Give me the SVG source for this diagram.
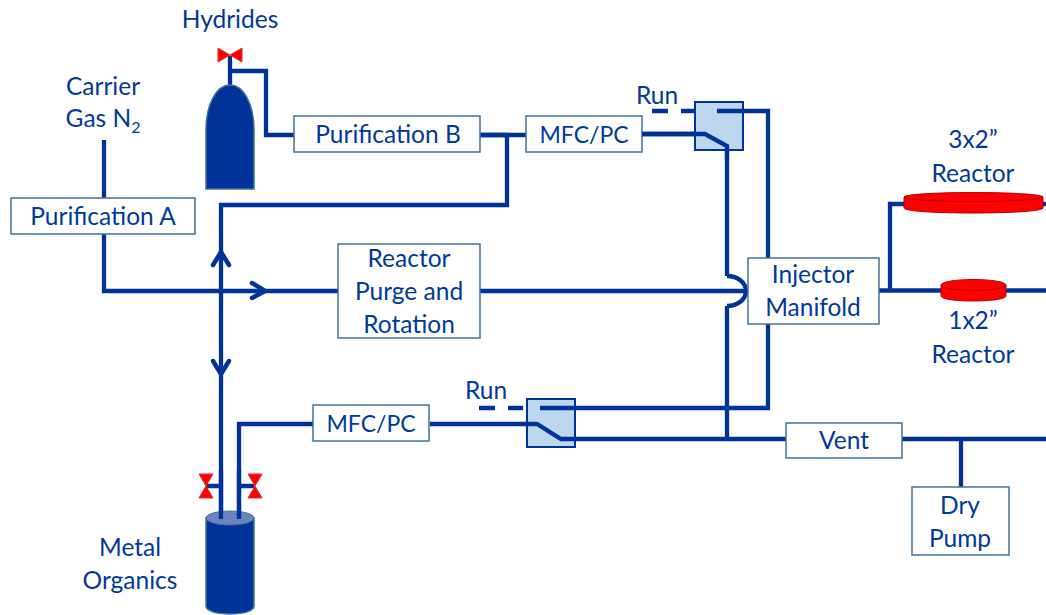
<svg xmlns="http://www.w3.org/2000/svg" width="1046" height="615" viewBox="0 0 1046 615">
<style>
text{font-family:Lato,"Open Sans","Liberation Sans",sans-serif;font-size:24.5px;fill:#003a99;text-anchor:middle}
text.m{font-size:23px}
.l{fill:none;stroke:#003399;stroke-width:4.300;stroke-linejoin:miter}
.a{fill:none;stroke:#003399;stroke-width:4.500;stroke-linecap:round;stroke-linejoin:round}
.b{fill:#fff;stroke:#41719c;stroke-width:1.500}
.s{fill:#bdd7ee;stroke:#003399;stroke-width:2}
.v{fill:#ff0000;stroke:#e03030;stroke-width:1}
.r{fill:#ff0000;stroke:#b80000;stroke-width:1}
.c{fill:#003399;stroke:#41719c;stroke-width:1.500}
</style>
<rect width="1046" height="615" fill="#fff"/>
<g id="connectors">
<path class="l" d="M104 140V291H338"/>
<path class="l" d="M221 520V205H507V135H480"/>
<path class="l" d="M239 520V424H313"/>
<path class="l" d="M230 56V88M230 71H266V135H295"/>
<path class="l" d="M480 291H748"/>
<path class="l" d="M727 276C738 276 746 283 746 291C746 299 738 306 727 306"/>
<path class="l" d="M480 135H527M642 134H705L727 146V276M727 306V439"/>
<path class="l" d="M717 111H768V258M768 324V408H540"/>
<path class="l" d="M430 424H537L561 439H786M902 439H1046"/>
<path class="l" d="M961 439V487"/>
<path class="l" d="M879 290.500H942M1005 290.500H1046M890 290V204H904M1041 204H1046"/>
<path class="l" d="M652 111H668M681 111H697"/>
<path class="l" d="M479 408H495M508 408H523"/>
<path class="l" d="M206 486H221M239 486H254"/>
<path class="a" d="M213 265L221 252L229 265"/>
<path class="a" d="M252 283L265 291L252 298"/>
<path class="a" d="M213 361L221 374L229 361"/>
</g>
<g id="purification-a"><rect class="b" x="11" y="198" width="184" height="36"/><text x="103" y="225">Purification A</text></g>
<g id="purification-b"><rect class="b" x="294" y="116" width="186" height="36"/><text x="388" y="143">Purification B</text></g>
<g id="mfc-top"><rect class="b" x="526" y="116" width="116" height="36"/><text class="m" x="584" y="143">MFC/PC</text></g>
<g id="mfc-bottom"><rect class="b" x="313" y="405" width="116" height="36"/><text class="m" x="371" y="432">MFC/PC</text></g>
<g id="reactor-purge"><rect class="b" x="338" y="244" width="142" height="94"/><text x="409" y="267">Reactor</text><text x="409" y="300">Purge and</text><text x="409" y="333">Rotation</text></g>
<g id="injector"><rect class="b" x="748" y="258" width="131" height="66"/><text x="813" y="283">Injector</text><text x="813" y="316">Manifold</text></g>
<g id="vent"><rect class="b" x="786" y="423" width="116" height="35"/><text x="844" y="449">Vent</text></g>
<g id="dry-pump"><rect class="b" x="912" y="487" width="97" height="68"/><text x="960" y="514">Dry</text><text x="960" y="547">Pump</text></g>
<g id="switch-top"><rect class="s" x="695" y="102" width="48" height="48"/><path class="l" d="M642 134H705L727 146V160M717 111H743"/></g>
<g id="switch-bottom"><rect class="s" x="527" y="399" width="48" height="48"/><path class="l" d="M527 424H537L561 439H575M540 408H575"/></g>
<g id="hydrides"><path class="c" d="M206 189V130C206 105 216 85 230 85C244 85 254 105 254 130V189Z"/><path class="v" d="M218 48L230 55L242 48V62L230 55L218 62Z"/><text x="230" y="28">Hydrides</text></g>
<g id="carrier"><text x="103" y="95">Carrier</text><text x="103" y="127">Gas N<tspan font-size="16" dy="6">2</tspan></text></g>
<g id="metal-organics">
<path class="c" d="M206 518V606C206 611 216 614 230 614C244 614 254 611 254 606V518Z"/>
<ellipse cx="230" cy="518" rx="24" ry="7" fill="#6d83bd" stroke="#41719c"/>
<path class="l" d="M221 470V519M239 470V519"/>
<path class="v" d="M199 474H213L206 486L213 498H199L206 486Z"/>
<path class="v" d="M248 474H262L255 486L262 498H248L255 486Z"/>
<text x="130" y="556">Metal</text><text x="130" y="589">Organics</text>
</g>
<g id="reactor-3x2"><path class="r" d="M904 197V208C904 211 934 213 973 213C1012 213 1043 211 1043 208V197Z"/><ellipse class="r" cx="973.500" cy="197" rx="69.500" ry="4.500"/><text x="973" y="148">3x2”</text><text x="973" y="182">Reactor</text></g>
<g id="reactor-1x2"><path class="r" d="M941 285V296C941 299 955 301 973 301C991 301 1006 299 1006 296V285Z"/><ellipse class="r" cx="973.500" cy="285" rx="32.500" ry="5.500"/><text x="973" y="329">1x2”</text><text x="973" y="363">Reactor</text></g>
<g id="run-top"><text x="657" y="104">Run</text></g>
<g id="run-bottom"><text x="486" y="399">Run</text></g>
</svg>
